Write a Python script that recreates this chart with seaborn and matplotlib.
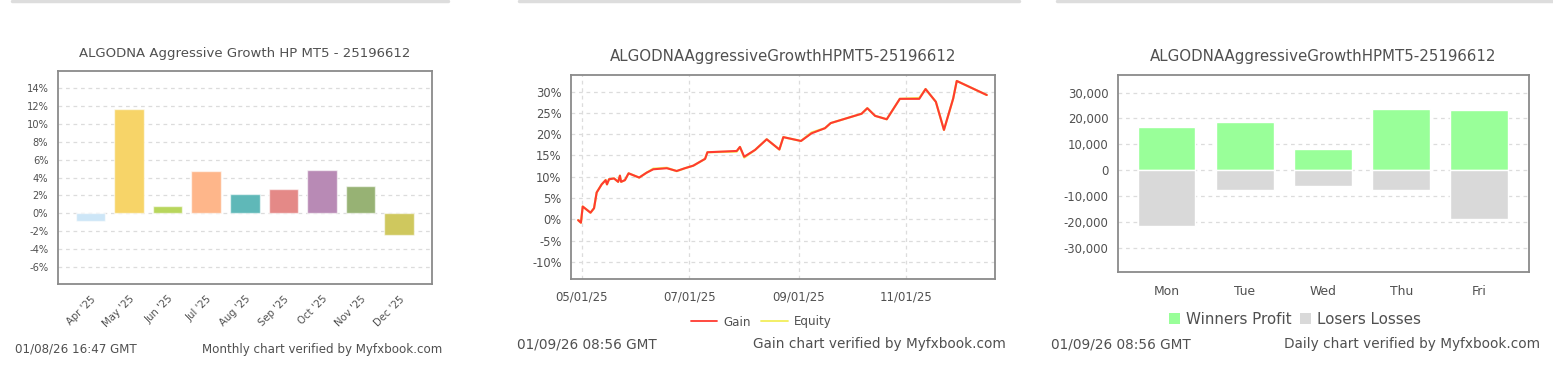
import matplotlib
matplotlib.use("Agg")
import matplotlib.pyplot as plt
import seaborn as sns
import pandas as pd
from matplotlib.lines import Line2D
from matplotlib.patches import Patch
import matplotlib.dates as mdates

# ---------------- data ----------------
months = ["Apr '25", "May '25", "Jun '25", "Jul '25", "Aug '25",
          "Sep '25", "Oct '25", "Nov '25", "Dec '25"]
monthly_gain = [-0.82, 11.7, 0.86, 4.77, 2.2, 2.7, 4.88, 3.1, -2.38]
month_colors = ["#cde6f7", "#f7d468", "#b8d65c", "#feb68a", "#5fb8b8",
                "#e48987", "#b88ab5", "#97b274", "#cfc85e"]
monthly_ticks = [-6, -4, -2, 0, 2, 4, 6, 8, 10, 12, 14]

gain_dates = [
    "2025-04-29 00:00", "2025-04-30 14:00", "2025-05-01 14:00", "2025-05-06 00:00",
    "2025-05-08 00:00", "2025-05-09 12:00", "2025-05-12 08:00", "2025-05-14 14:00",
    "2025-05-15 08:00", "2025-05-16 12:00", "2025-05-19 08:00", "2025-05-21 16:00",
    "2025-05-22 16:00", "2025-05-23 08:00", "2025-05-25 12:00", "2025-05-27 14:00",
    "2025-06-02 14:00", "2025-06-06 20:00", "2025-06-10 14:00", "2025-06-18 06:00",
    "2025-06-23 20:00", "2025-06-28 12:00", "2025-07-03 06:00", "2025-07-09 22:00",
    "2025-07-11 06:00", "2025-07-27 20:00", "2025-07-29 16:00", "2025-08-01 02:00",
    "2025-08-07 06:00", "2025-08-13 20:00", "2025-08-21 00:00", "2025-08-23 06:00",
    "2025-09-02 06:00", "2025-09-08 06:00", "2025-09-15 20:00", "2025-09-19 02:00",
    "2025-10-06 14:00", "2025-10-09 20:00", "2025-10-14 06:00", "2025-10-20 20:00",
    "2025-10-28 06:00", "2025-11-08 06:00", "2025-11-11 20:00", "2025-11-17 16:00",
    "2025-11-22 06:00", "2025-11-27 12:00", "2025-11-29 12:00", "2025-12-16 12:00",
]
gain_values = [
    -0.2, -0.8, 3.0, 1.55,
    2.6, 6.3, 8.2, 9.2,
    8.2, 9.4, 9.6, 8.8,
    10.25, 8.8, 9.2, 10.8,
    9.8, 10.96, 11.75, 12.0,
    11.35, 12.0, 12.6, 14.2,
    15.75, 16.05, 17.0, 14.7,
    16.3, 18.8, 16.4, 19.3,
    18.4, 20.2, 21.4, 22.6,
    24.8, 26.1, 24.3, 23.5,
    28.3, 28.3, 30.6, 27.6,
    21.0, 28.4, 32.5, 29.2,
]
equity_values = [
    -0.2, -0.8, 3.0, 1.55,
    2.6, 6.3, 8.2, 9.2,
    8.2, 9.4, 9.6, 8.8,
    10.25, 8.8, 9.2, 10.8,
    9.8, 10.96, 11.9, 12.1,
    11.3, 12.0, 12.6, 14.2,
    15.75, 15.9, 17.0, 14.5,
    16.3, 18.8, 16.4, 19.3,
    18.4, 20.4, 21.4, 22.6,
    24.8, 26.1, 24.3, 23.5,
    28.3, 28.5, 30.6, 27.6,
    21.0, 28.4, 32.5, 29.2,
]
gain_ticks = [-10, -5, 0, 5, 10, 15, 20, 25, 30]
gain_date_ticks = ["2025-05-01", "2025-07-01", "2025-09-01", "2025-11-01"]

weekdays = ["Mon", "Tue", "Wed", "Thu", "Fri"]
winners_profit = [16700, 18650, 8200, 23500, 23400]
losers_losses = [-21400, -7500, -5900, -7500, -18900]
daily_ticks = [-30000, -20000, -10000, 0, 10000, 20000, 30000]

# ---------------- style ----------------
sns.set_theme(style="white")
plt.rcParams['font.family'] = ['DejaVu Sans']
TXT = "#505050"
FRAME = "#8a8a8a"
GRID = "#dcdcdc"

W, H = 1553, 370
fig = plt.figure(figsize=(W / 100, H / 100), dpi=100)


def px_axes(x0, y0, x1, y1):
    return fig.add_axes([x0 / W, 1 - y1 / H, (x1 - x0) / W, (y1 - y0) / H])


def style_axes(ax, fs, xgrid=False):
    for s in ax.spines.values():
        s.set_color(FRAME)
        s.set_linewidth(1.3)
        s.set_visible(True)
    ax.tick_params(direction="out", length=5, width=1, color=FRAME,
                   labelcolor=TXT, labelsize=fs, pad=2)
    ax.grid(False)
    ax.yaxis.grid(True, linestyle=(0, (3, 3)), color=GRID, linewidth=0.9)
    if xgrid:
        ax.xaxis.grid(True, linestyle=(0, (3, 3)), color=GRID, linewidth=0.9)
    ax.set_axisbelow(True)
    ax.set_xlabel("")
    ax.set_ylabel("")


# top separator lines
for x0, x1 in [(12, 448), (519, 1019), (1057, 1553)]:
    fig.add_artist(Line2D([x0 / W, x1 / W], [1 - 1 / H, 1 - 1 / H],
                          color="#dddddd", lw=2.5))

# ---------------- panel 1: monthly ----------------
ax1 = px_axes(58, 71, 432, 284)
df1 = pd.DataFrame({"month": months, "gain": monthly_gain})
sns.barplot(data=df1, x="month", y="gain", hue="month", palette=month_colors,
            width=0.77, saturation=1, legend=False, ax=ax1,
            edgecolor=(1, 1, 1, 0.6), linewidth=1)
ax1.set_ylim(-7.9, 15.9)
ax1.set_xlim(-0.84, 8.85)
ax1.set_yticks(monthly_ticks)
ax1.set_yticklabels([f"{v}%" for v in monthly_ticks])
style_axes(ax1, 7.1)
ax1.tick_params(axis="x", labelsize=7.3)
plt.setp(ax1.get_xticklabels(), rotation=45, ha="right", rotation_mode="anchor")
ax1.set_title("ALGODNA Aggressive Growth HP MT5 - 25196612", fontsize=9.5,
              color=TXT, pad=10)
fig.text(15 / W, 1 - 349 / H, "01/08/26 16:47 GMT", fontsize=8.6, color=TXT,
         va="center", ha="left")
fig.text(442 / W, 1 - 349 / H, "Monthly chart verified by Myfxbook.com",
         fontsize=8.6, color=TXT, va="center", ha="right")

# ---------------- panel 2: gain ----------------
ax2 = px_axes(571.3, 75, 994.7, 279.3)
df2 = pd.DataFrame({"date": pd.to_datetime(gain_dates), "gain": gain_values,
                    "equity": equity_values})
sns.lineplot(data=df2, x="date", y="equity", color="#f2ee5a", lw=1.6, ax=ax2)
sns.lineplot(data=df2, x="date", y="gain", color="#ff3a30", lw=1.5, ax=ax2)
ax2.set_ylim(-14.1, 33.9)
ax2.set_xlim(pd.Timestamp("2025-04-25 03:00"), pd.Timestamp("2025-12-21 00:00"))
ax2.set_yticks(gain_ticks)
ax2.set_yticklabels([f"{v}%" for v in gain_ticks])
ax2.set_xticks(pd.to_datetime(gain_date_ticks))
ax2.xaxis.set_major_formatter(mdates.DateFormatter("%m/%d/%y"))
style_axes(ax2, 8.3, xgrid=True)
ax2.tick_params(axis="x", pad=3, labelsize=8.5)
ax2.set_title("ALGODNAAggressiveGrowthHPMT5-25196612", fontsize=10.8,
              color=TXT, pad=10)
h2 = [Line2D([], [], color="#ff3a30", lw=1.3), Line2D([], [], color="#f2ee5a", lw=1.3)]
fig.legend(h2, ["Gain", "Equity"], loc="center", bbox_to_anchor=(761 / W, 1 - 322 / H),
           ncol=2, frameon=False, fontsize=8.6, labelcolor=TXT, handlelength=2.2,
           handletextpad=0.5, columnspacing=0.9)
fig.text(517 / W, 1 - 344 / H, "01/09/26 08:56 GMT", fontsize=9.8, color=TXT,
         va="center", ha="left")
fig.text(1005.7 / W, 1 - 344 / H, "Gain chart verified by Myfxbook.com",
         fontsize=9.8, color=TXT, va="center", ha="right")

# ---------------- panel 3: daily ----------------
ax3 = px_axes(1118, 75, 1528.7, 272.3)
df3 = pd.DataFrame({"day": weekdays, "win": winners_profit, "loss": losers_losses})
sns.barplot(data=df3, x="day", y="win", color="#99ff99", saturation=1,
            width=0.74, ax=ax3)
sns.barplot(data=df3, x="day", y="loss", color="#d9d9d9", saturation=1,
            width=0.74, ax=ax3)
ax3.set_ylim(-39400, 36800)
ax3.set_xlim(-0.62, 4.63)
ax3.set_yticks(daily_ticks)
ax3.set_yticklabels([f"{v:,}" for v in daily_ticks])
style_axes(ax3, 8.4)
ax3.tick_params(axis="x", pad=4, labelsize=8.9)
ax3.set_title("ALGODNAAggressiveGrowthHPMT5-25196612", fontsize=10.8,
              color=TXT, pad=10)
h3 = [Patch(facecolor="#99ff99", edgecolor="none"),
      Patch(facecolor="#d9d9d9", edgecolor="none")]
fig.legend(h3, ["Winners Profit", "Losers Losses"], loc="center",
           bbox_to_anchor=(1295 / W, 1 - 319 / H), ncol=2, frameon=False,
           fontsize=10.9, labelcolor=TXT, handlelength=0.75, handleheight=0.75,
           handletextpad=0.4, columnspacing=0.5)
fig.text(1050.7 / W, 1 - 344 / H, "01/09/26 08:56 GMT", fontsize=9.8, color=TXT,
         va="center", ha="left")
fig.text(1540 / W, 1 - 344 / H, "Daily chart verified by Myfxbook.com",
         fontsize=9.8, color=TXT, va="center", ha="right")

fig.savefig("out.png", dpi=100, facecolor="white")
